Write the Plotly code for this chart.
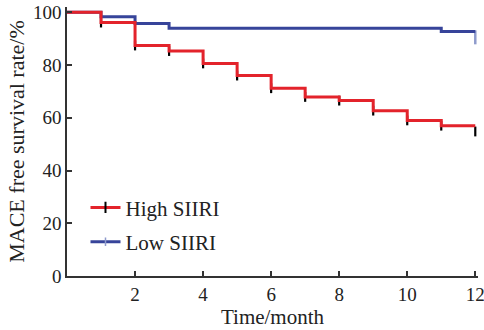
import plotly.graph_objects as go

# ---- data ----
months = [0, 1, 2, 3, 4, 5, 6, 7, 8, 9, 10, 11, 12]
high_siiri = [100, 96.1, 87.4, 85.3, 80.6, 76.0, 71.2, 67.9, 66.5, 62.7, 59.0, 57.0, 57.0]
low_siiri = [100, 98.3, 95.7, 93.9, 93.9, 93.9, 93.9, 93.9, 93.9, 93.9, 93.9, 92.7, 92.7]

# censor marks
high_censor_x = [1, 2, 3, 4, 5, 6, 7, 8, 9, 10, 11, 12]
high_censor_y = [96.1, 87.4, 85.3, 80.6, 76.0, 71.2, 67.9, 66.5, 62.7, 59.0, 57.0, 54.8]
low_censor_x = [12]
low_censor_y = [90.5]

x_ticks = [2, 4, 6, 8, 10, 12]
y_ticks = [0, 20, 40, 60, 80, 100]

RED = "#e3232b"
BLUE = "#37449a"
FONT = "Liberation Serif"

fig = go.Figure()

fig.add_trace(go.Scatter(
    x=high_censor_x, y=high_censor_y, mode="markers",
    marker=dict(symbol="line-ns", size=7, line=dict(color="black", width=2.2)),
    showlegend=False, hoverinfo="skip", cliponaxis=False))
fig.add_trace(go.Scatter(
    x=low_censor_x, y=low_censor_y, mode="markers",
    marker=dict(symbol="line-ns", size=10, line=dict(color="#8f9bcc", width=2.5)),
    showlegend=False, hoverinfo="skip", cliponaxis=False))

fig.add_trace(go.Scatter(
    x=months, y=low_siiri, mode="lines", line=dict(color=BLUE, width=3, shape="hv"),
    showlegend=False))
fig.add_trace(go.Scatter(
    x=months, y=high_siiri, mode="lines", line=dict(color=RED, width=3, shape="hv"),
    showlegend=False))

# legend entries
fig.add_trace(go.Scatter(
    x=[None], y=[None], mode="lines+markers", name="High SIIRI", legendgroup="a",
    line=dict(color=RED, width=3),
    marker=dict(symbol="line-ns", size=8, color="black", line=dict(color="black", width=2))))
fig.add_trace(go.Scatter(
    x=[None], y=[None], mode="lines+markers", name="Low SIIRI", legendgroup="b",
    line=dict(color=BLUE, width=3),
    marker=dict(symbol="line-ns", size=6, color="#8f9bcc", line=dict(color="#8f9bcc", width=1.5))))

fig.update_layout(
    width=484, height=330,
    margin=dict(l=67, r=6, t=7, b=54),
    paper_bgcolor="white", plot_bgcolor="white",
    font=dict(family=FONT, color="#222", size=19),
    showlegend=True,
    legend=dict(x=0.045, y=0.33, xanchor="left", yanchor="top",
                font=dict(family=FONT, size=21, color="#222"),
                bgcolor="rgba(0,0,0,0)", traceorder="grouped", tracegroupgap=4,
                itemwidth=30),
)
fig.update_xaxes(
    range=[0, 12.08], tickvals=x_ticks, ticks="inside", ticklen=5, tickwidth=1.5,
    tickcolor="#333", showline=True, linecolor="#333", linewidth=1.5,
    showgrid=False, zeroline=False, tickfont=dict(family=FONT, size=19),
    ticklabeloverflow="allow", automargin=False,
    title=dict(text="Time/month", font=dict(family=FONT, size=21), standoff=4))
fig.update_yaxes(
    range=[0, 102], tickvals=y_ticks, ticks="inside", ticklen=5, tickwidth=1.5,
    tickcolor="#333", showline=True, linecolor="#333", linewidth=1.5,
    showgrid=False, zeroline=False, tickfont=dict(family=FONT, size=19),
    ticklabeloverflow="allow", automargin=False,
    title=dict(text="MACE free survival rate/%", font=dict(family=FONT, size=22), standoff=2))

fig.write_html("out.html")
